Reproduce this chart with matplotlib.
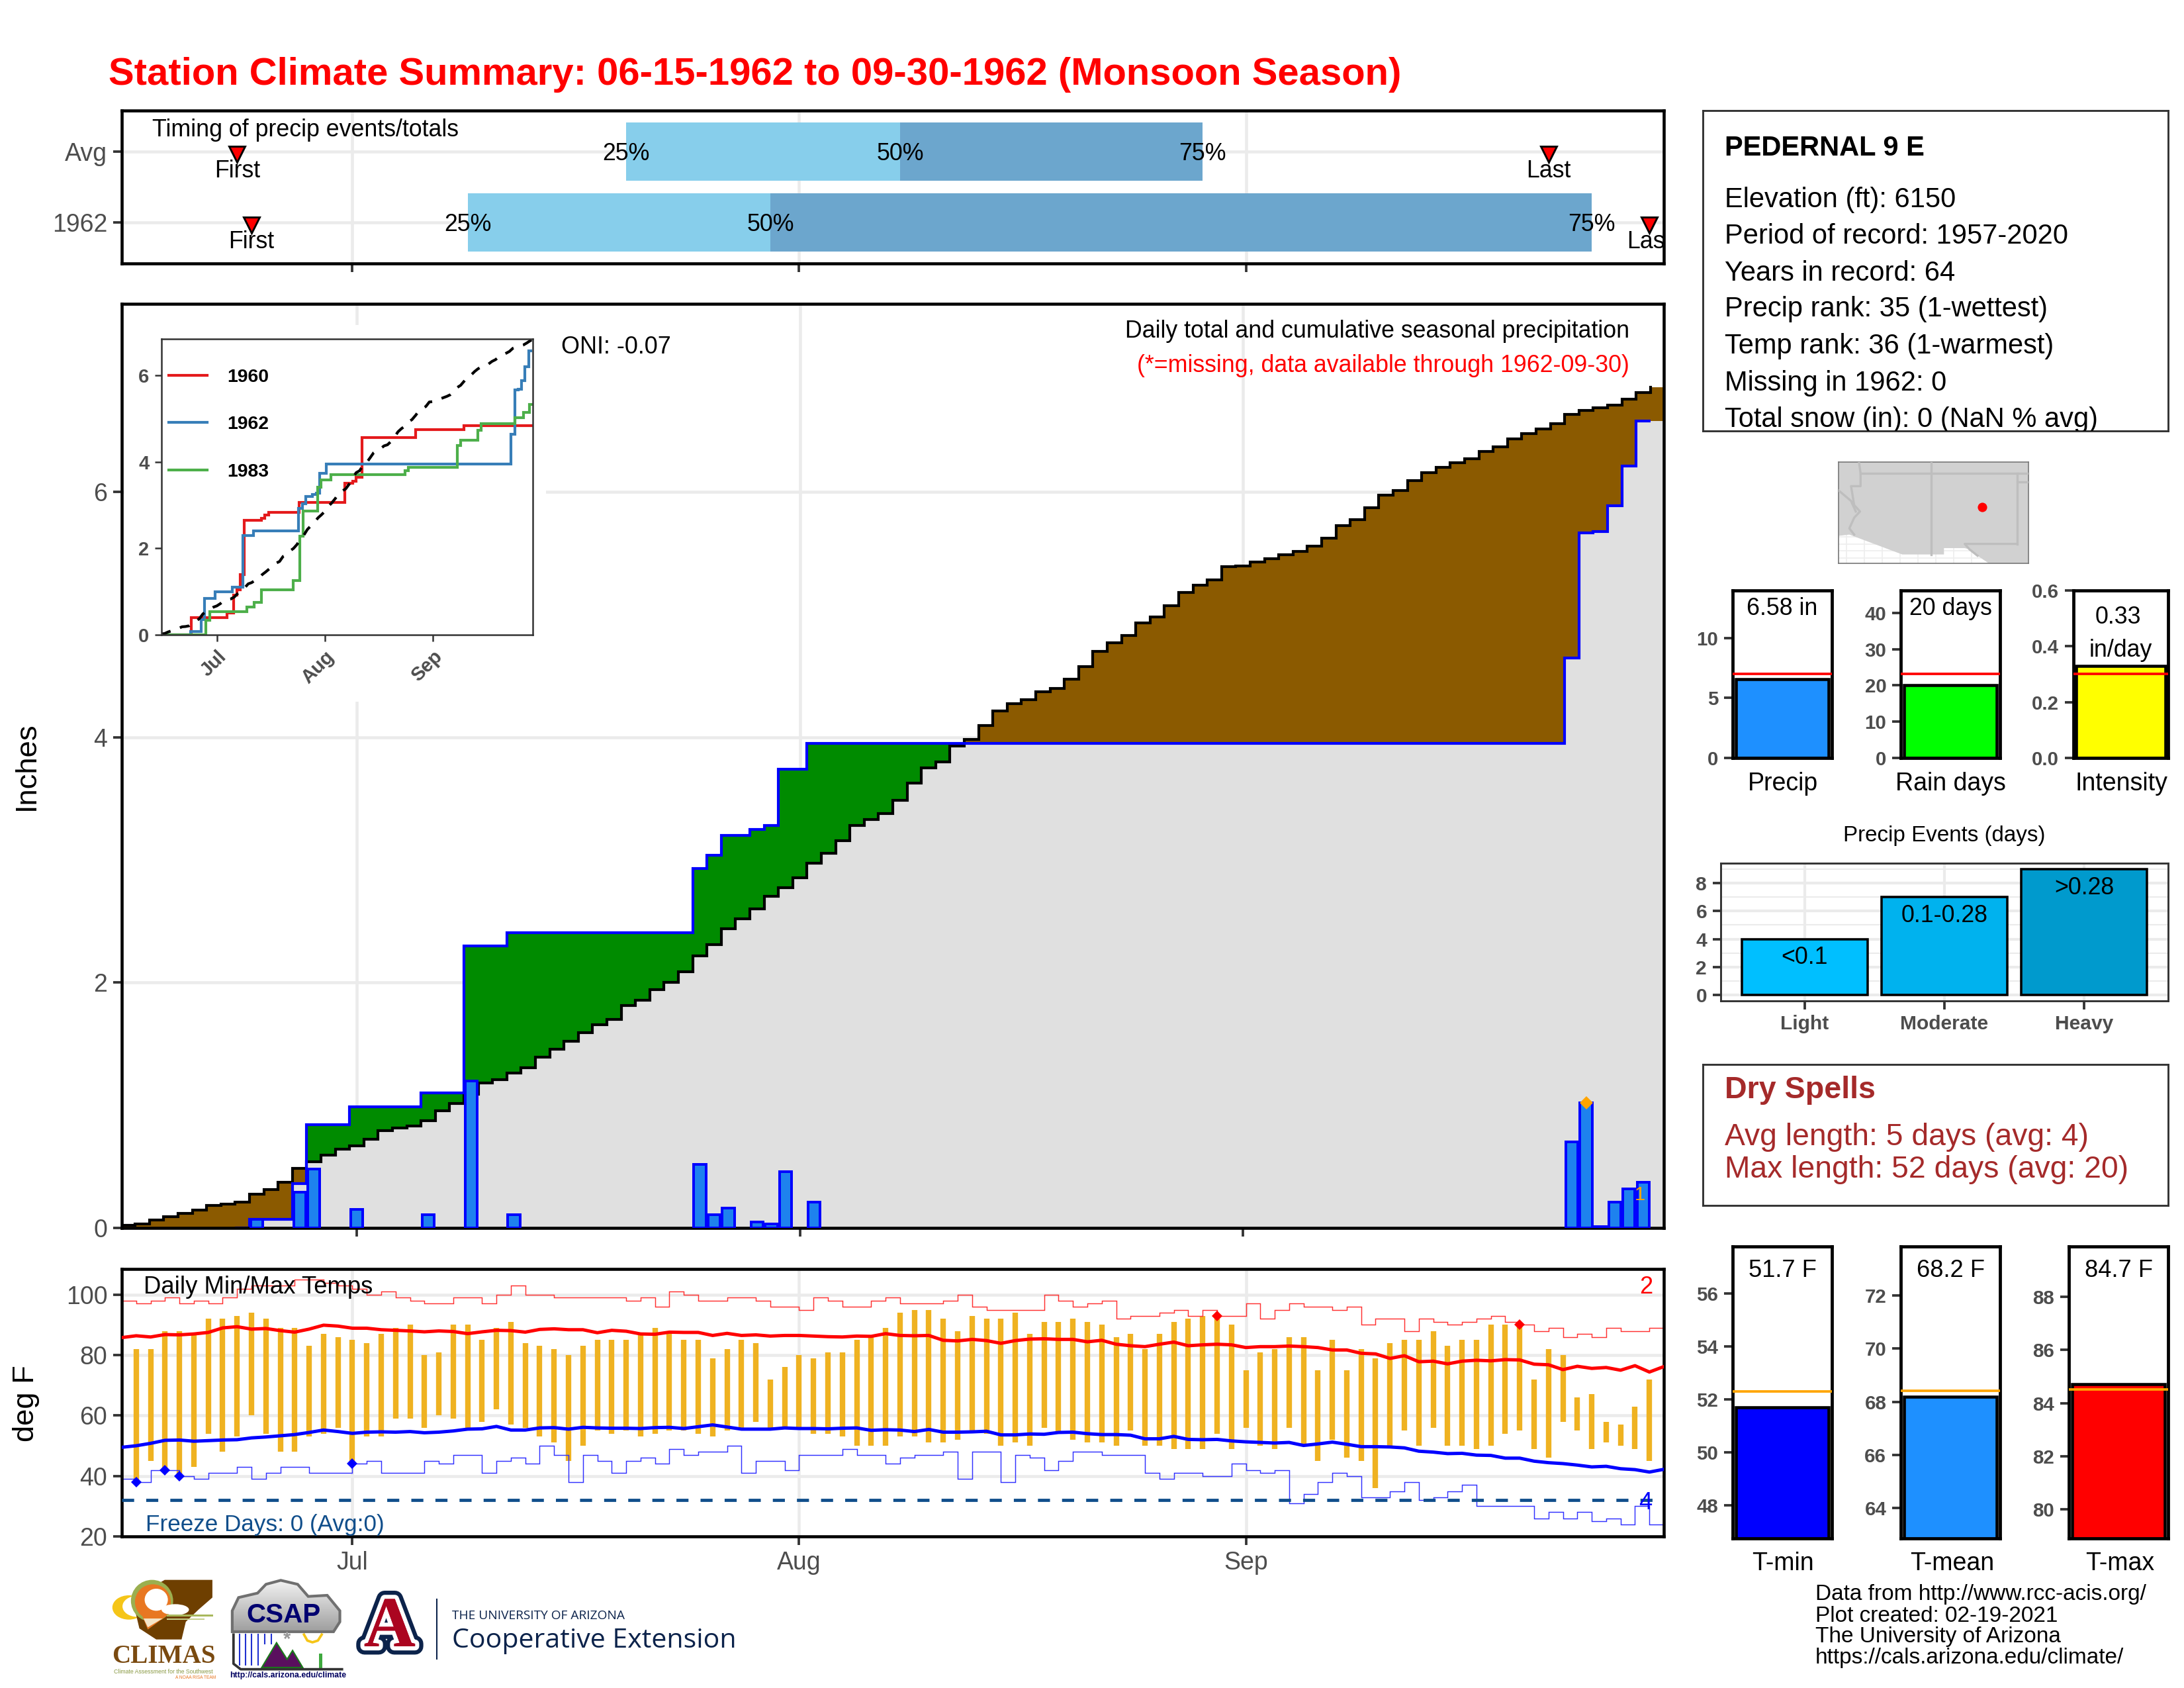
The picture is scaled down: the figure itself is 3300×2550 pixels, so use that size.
import numpy as np
import matplotlib
matplotlib.use("Agg")
import matplotlib.pyplot as plt
from matplotlib.patches import Polygon, Ellipse, Rectangle
import matplotlib.patheffects as pe

plt.rcParams['font.family'] = ['Liberation Sans', 'DejaVu Sans']
W, H = 3300, 2550
GRID = '#EBEBEB'
TICK = '#333333'
TXT = '#4D4D4D'

# ---------------- data ----------------
clim_cum = [0.02,0.03,0.066,0.093,0.12,0.148,0.186,0.192,0.208,0.276,0.315,0.375,0.485,0.54,0.594,0.64,0.67,0.722,0.792,0.815,
            0.83,0.875,0.957,1.013,1.09,1.18,1.209,1.264,1.307,1.393,1.455,1.523,1.591,1.659,1.698,1.814,1.855,1.943,2.0,2.091,
            2.216,2.311,2.441,2.523,2.602,2.705,2.777,2.857,2.975,3.055,3.155,3.28,3.33,3.38,3.489,3.627,3.754,3.80,3.93,3.986,
            4.098,4.214,4.274,4.309,4.374,4.40,4.477,4.576,4.70,4.774,4.83,4.933,4.98,5.075,5.179,5.239,5.286,5.39,5.398,5.428,
            5.458,5.489,5.519,5.557,5.626,5.725,5.777,5.872,5.975,6.014,6.095,6.16,6.203,6.238,6.27,6.33,6.37,6.436,6.476,6.517,
            6.56,6.634,6.665,6.687,6.71,6.757,6.81,6.855]
rain_days = [9,12,13,16,21,24,27,40,41,42,44,45,46,48,101,102,103,104,105,106]
rain_amt = [0.07,0.29,0.48,0.15,0.11,1.2,0.11,0.52,0.11,0.16,0.05,0.03,0.46,0.21,0.70,1.02,0.01,0.21,0.32,0.37]

tmax = [82,82,88,88,87,92,92,93,94,92,89,89,83,87,86,85,84,87,89,90,80,81,90,90,85,89,91,84,83,82,80,83,85,85,85,87,89,88,85,85,79,82,85,84,72,76,
        80,79,81,81,85,86,89,94,95,95,92,88,93,92,92,94,87,91,91,92,91,90,86,87,82,87,91,92,93,93,90,
        75,81,82,86,86,75,85,75,82,79,84,85,85,88,83,85,85,90,90,90,72,82,80,66,67,58,57,63,72]
tmin = [38,45,42,40,43,54,48,53,60,54,48,48,53,54,56,44,53,53,59,59,56,60,59,55,58,62,57,56,53,51,45,50,55,54,55,53,54,55,55,54,53,55,56,58,56,56,
        56,54,54,53,50,50,50,53,53,51,51,52,55,54,50,51,50,56,54,52,51,51,50,55,50,50,49,49,49,54,49,
        56,50,49,56,50,45,52,46,45,36,50,55,50,56,50,50,49,50,54,55,49,46,58,55,49,51,50,49,45]
tmax_high = [98,97,98,99,97,98,97,99,102,103,103,103,105,105,104,103,102,100,101,99,98,97,97,99,99,97,100,103,100,100,
             99,99,99,99,99,98,99,96,101,100,98,98,99,99,98,96,96,95,99,98,96,96,98,99,97,97,97,98,100,96,
             95,95,95,95,100,98,96,97,98,92,93,93,94,95,93,95,93,93,97,92,95,97,96,96,95,96,90,92,92,88,
             92,91,90,91,92,93,91,90,88,89,86,87,86,89,88,88,89]
tmin_low = [39,38,42,42,40,39,41,41,43,39,41,43,43,41,41,41,44,45,41,41,41,45,44,47,47,41,45,46,44,50,
            47,38,47,45,41,45,46,44,49,47,48,48,50,41,45,45,42,47,47,47,49,47,47,44,46,47,47,48,39,48,
            48,38,47,46,42,45,48,48,47,47,47,41,39,41,41,40,40,44,42,41,42,31,34,38,41,40,33,33,35,38,
            32,33,35,37,30,30,30,30,26,28,26,28,25,26,24,30,24]
tmax_avg = [85.8,86.4,86,86.8,86.7,87,87.5,89,89.4,88.6,88.8,88.1,87.6,88.6,89.9,89.6,88.9,88.9,88.4,88.2,88,87.7,88,87.8,87.1,87.7,88.2,88.1,87.6,88.5,
            88.7,88.4,88.4,87.4,88.2,87.9,87,86.9,87.6,87.5,87.5,86.5,87.2,86.5,86.7,86.3,86.5,86.5,
            86.3,86.1,86,86.3,86.2,87.1,86.5,86.4,86.5,84.9,84.7,85.2,84.8,83.9,84.8,85.3,85.4,85.2,85.2,84.4,
            84.9,83.6,83.1,82.8,83.6,84.3,83.1,83.4,83.6,83.4,82.5,82.8,82.8,83,82.8,82.5,81.7,81.7,80.6,80.4,
            78.9,79.8,77.8,78,77.1,78,78.3,78.1,78.5,78.4,77,76.8,75.2,76.3,75.6,75.9,75,76.5,74.4,76.2]
tmin_avg = [49.5,50,50.8,51.8,51.9,51.5,51.7,51.9,52,52.6,52.9,53.3,53.7,54.4,55.2,54.7,54.1,54.5,54.6,54.5,54.7,
            54.3,54.5,54.9,55.5,55.6,56.4,55.2,55.2,55.9,56,55.5,56.1,55.9,55.8,55.8,55.7,56,56.1,55.7,56.3,56.9,56.2,55.5,55.5,55.5,55.9,55.7,
            55.7,55.6,55.8,55.9,55.1,55.3,55.2,54.7,55.4,54.5,54.5,54.6,54.8,53.6,53.6,53.9,53.8,54.4,54.5,54,
            53.7,53.7,53.5,52.3,52.3,53.1,52.1,52,52.1,51.6,51.3,51.1,50.9,51.1,50.1,50.6,51.2,50.5,49.7,49.7,
            49.6,49.3,48.2,47.9,47.4,47.5,46.9,46.8,45.9,45.9,44.9,44.4,44.1,43.6,43,43.2,42.4,42.1,41.3,42.2]
cold_days = [1,3,4,16]
cold_vals = [38,42,40,44]
hot_days = [76,97]
hot_vals = [93,90]

y1960_days = [0,8.7,18.9,20.8,21.8,22.8,23.8,28.7,29.8,30.8,39.7,52.8,55,56,57.7,73,87]
y1960_vals = [0,0.40,0.50,0.92,1.04,1.39,2.65,2.70,2.77,2.83,3.07,3.51,3.55,3.65,4.57,4.75,4.85]
y1983_days = [0,12.8,13.9,24.7,26.7,28.8,37.9,39.9,40.7,44.9,45.9,48.8,70,70.9,85,86,91,91.9,101.5,104,105.8]
y1983_vals = [0,0.33,0.54,0.64,0.75,1.04,1.25,2.28,2.86,3.41,3.58,3.71,3.80,3.875,4.39,4.5,4.74,4.89,5.03,5.15,5.33]

month_days = [16,47,78]
month_labels = ['Jul','Aug','Sep']
timing_rows = ['1962','Avg']
timing_q = {'Avg':[35,54,75], '1962':[24,45,102]}
timing_first = {'Avg':8, '1962':9}
timing_last = {'Avg':99, '1962':106}

events = [4,7,9]
event_names = ['Light','Moderate','Heavy']
event_ranges = ['<0.1','0.1-0.28','>0.28']
event_colors = ['#00BFFF','#00B2EE','#009ACD']

station_lines = ['Elevation (ft): 6150','Period of record: 1957-2020','Years in record: 64','Precip rank: 35 (1-wettest)',
                 'Temp rank: 36 (1-warmest)','Missing in 1962: 0','Total snow (in): 0 (NaN % avg)']

land_lon = [-115.58,-114.82,-111.1,-108.17,-108.17,-106.71,-106.37,-105.81,-105.02,-102.23,-102.23,-115.58]
land_lat = [32.57,32.66,31.25,31.25,31.7,31.7,31.61,31.16,30.62,30.62,37.81,37.81]
border_segments = [
    ([-114.14,-114.03,-114.03,-114.70,-114.48,-114.07,-114.48,-114.82,-114.48],[37.81,37,36.1,36.1,34.75,34.3,33.86,33.1,32.66]),
    ([-115.58,-114.7,-114.37],[35.8,35.05,34.3]),
    ([-114.03,-102.23],[37,37]),
    ([-109.05,-109.05],[37.81,31.25]),
    ([-103.04,-103.04],[37,32]),
    ([-103.04,-102.23],[36.4,36.4]),
    ([-105.81,-106.37,-106.71,-103.04],[31.16,31.61,32,32]),
]
station_lon, station_lat = -105.49, 34.6

# ---------------- helpers ----------------
fig = plt.figure(figsize=(11, 8.5), dpi=300)

def axpx(x0, y0, x1, y1, **kw):
    return fig.add_axes([x0/W, 1-y1/H, (x1-x0)/W, (y1-y0)/H], **kw)

def frame(ax, lw=1.1, color='black'):
    for s in ax.spines.values():
        s.set_linewidth(lw); s.set_color(color)

def style(ax, size=9, tl=3.2, tw=0.9, bold=False):
    ax.tick_params(length=tl, width=tw, color=TICK, labelcolor=TXT, labelsize=size, pad=2)
    if bold:
        for t in ax.get_xticklabels()+ax.get_yticklabels():
            t.set_fontweight('bold')

idx = np.arange(len(clim_cum))
clim_cum = np.array(clim_cum)
daily = np.zeros(len(clim_cum)); daily[rain_days] = rain_amt
cum = np.cumsum(daily); cum[-1] = cum[-2]

# ---------------- timing panel ----------------
ax = axpx(184, 167, 2514, 398)
ax.set_xlim(0, 107); ax.set_ylim(0.42, 2.58)
ax.set_axisbelow(True)
ax.grid(True, color=GRID, lw=1.1)
ax.set_xticks(month_days); ax.set_xticklabels([])
ax.set_yticks([1, 2]); ax.set_yticklabels(timing_rows)
style(ax, 9); frame(ax)
for r, name in enumerate(timing_rows, start=1):
    q = timing_q[name]
    ax.barh(r, q[1]-q[0], left=q[0], height=0.82, color='#87CEEB', lw=0)
    ax.barh(r, q[2]-q[1], left=q[1], height=0.82, color='#6CA6CD', lw=0)
    for qq, lab in zip(q, ['25%','50%','75%']):
        ax.text(qq, r-0.03, lab, ha='center', va='center', fontsize=8.6, color='black')
    ax.plot(timing_first[name], r-0.04, marker='v', ms=5.6, mfc='red', mec='black', mew=0.7, ls='none')
    ax.plot(timing_last[name], r-0.04, marker='v', ms=5.6, mfc='red', mec='black', mew=0.7, ls='none')
    ax.text(timing_first[name], r-0.275, 'First', ha='center', va='center', fontsize=8.6, clip_on=True)
    ax.text(timing_last[name], r-0.275, 'Last', ha='center', va='center', fontsize=8.6, clip_on=True)
ax.text(2.1, 2.305, 'Timing of precip events/totals', ha='left', va='center', fontsize=8.6)

# ---------------- main precip panel ----------------
ax = axpx(184, 459, 2514, 1855)
ax.set_xlim(-0.44, 107.44); ax.set_ylim(0, 7.535)
ax.set_axisbelow(True)
ax.grid(True, color=GRID, lw=1.1)
ax.set_xticks(month_days); ax.set_xticklabels([])
ax.set_yticks([0, 2, 4, 6])
style(ax, 9); frame(ax)
edges = np.append(idx-0.5, idx[-1]+0.5)
lo = np.minimum(clim_cum, cum)
def sfill(low, high, color):
    ax.fill_between(edges, np.append(low, low[-1]), np.append(high, high[-1]), step='post', color=color, lw=0, zorder=1.5)
sfill(np.zeros_like(lo), lo, '#E0E0E0')
sfill(lo, clim_cum, '#8B5A00')
sfill(lo, cum, '#008B00')
ax.stairs(clim_cum[:-1], edges[:-1], color='black', lw=1.0, baseline=None, zorder=2)
ax.plot([edges[-2], edges[-2]], clim_cum[-2:], color='black', lw=1.0, zorder=2)
ax.stairs(cum[8:-1], edges[8:-1], color='#0000FF', lw=1.0, baseline=None, zorder=2.5)
ax.bar(rain_days, rain_amt, width=0.85, color='#1E82EE', edgecolor='#0000FF', lw=0.95, zorder=3)
ax.plot(rain_days[15], rain_amt[15], marker='D', ms=3.4, color='orange', mew=0, zorder=4)
ax.text(105.75, 0.27, '1', color='orange', fontsize=7, ha='center', va='center', zorder=4)
bg = axpx(188, 491, 825, 1060); bg.set_axis_off()
bg.add_patch(Rectangle((0, 0), 1, 1, transform=bg.transAxes, color='white', lw=0))

# ---------------- inset ----------------
ins = axpx(244, 512, 805, 959)
ins.set_xlim(0.1, 106.7); ins.set_ylim(0, 6.85)
ins.stairs(y1960_vals, y1960_days+[106.7], color='#E41A1C', lw=1.0, baseline=None, label='1960')
ins.stairs(cum[:-1], edges[:-1], color='#377EB8', lw=1.0, baseline=None, label='1962')
ins.stairs(y1983_vals, y1983_days+[106.7], color='#4DAF4A', lw=1.0, baseline=None, label='1983')
ins.plot(idx, clim_cum, color='black', lw=1.0, ls=(0, (3.6, 3.6)))
ins.set_xticks(month_days); ins.set_xticklabels(['Jul','Aug','Sep'], rotation=45, ha='right', rotation_mode='anchor')
ins.set_yticks([0, 2, 4, 6])
style(ins, 7, tl=2.5, tw=0.6, bold=True); frame(ins, 0.6, '#333333')
leg = ins.legend(loc='upper left', bbox_to_anchor=(0.0, 0.925), frameon=False, fontsize=6.8,
                 labelspacing=1.6, handlelength=2.05, handletextpad=1.05, borderpad=0.4, borderaxespad=0.0)
for t in leg.get_texts():
    t.set_fontweight('bold')

# ---------------- temperature panel ----------------
ax = axpx(184, 1917, 2514, 2321)
ax.set_xlim(0, 107); ax.set_ylim(20.4, 108.5)
ax.set_axisbelow(True)
ax.grid(True, color=GRID, lw=1.1)
ax.set_xticks(month_days); ax.set_xticklabels(month_labels)
ax.set_yticks([20, 40, 60, 80, 100])
style(ax, 9); frame(ax)
day1 = np.arange(1, len(tmax)+1)
ax.vlines(day1, tmin, tmax, color='#EFB221', lw=2.0, zorder=2)
ax.stairs(tmax_high, np.arange(len(tmax_high)+1), color='#FF3030', lw=0.35, baseline=None, zorder=2.2)
ax.stairs(tmin_low, np.arange(len(tmin_low)+1), color='#3030FF', lw=0.35, baseline=None, zorder=2.2)
ax.plot(np.arange(len(tmax_avg)), tmax_avg, color='#FF0000', lw=1.2, zorder=3)
ax.plot(np.arange(len(tmin_avg)), tmin_avg, color='#0000FF', lw=1.2, zorder=3)
ax.axhline(32, color='#104E8B', lw=1.15, ls=(0, (3.8, 3.8)), zorder=2.6)
ax.plot(cold_days, cold_vals, ls='none', marker='D', ms=2.6, color='#0000FF', mew=0, zorder=4)
ax.plot(hot_days, hot_vals, ls='none', marker='D', ms=2.6, color='#FF0000', mew=0, zorder=4)

# ---------------- station box ----------------
bx = axpx(2573, 167, 3276, 651)
bx.set_xlim(2573, 3276); bx.set_ylim(651, 167); bx.set_xticks([]); bx.set_yticks([])
frame(bx, 0.7, '#333333')
bx.text(2606, 224, 'PEDERNAL 9 E', fontsize=10, fontweight='bold', va='center', clip_on=True)
for yy, s in zip([302, 357, 413, 467, 523, 579, 634], station_lines):
    bx.text(2606, yy, s, fontsize=10, va='center', clip_on=True)

# ---------------- map ----------------
mp = axpx(2778, 698, 3065, 851)
mp.set_xlim(-115.58, -102.23); mp.set_ylim(30.62, 37.81)
mp.set_xticks(np.arange(-115, -103, 1.25)); mp.set_yticks(np.arange(31, 33, 0.5))
mp.grid(True, color='#EEEEEE', lw=0.4)
mp.tick_params(length=0, labelbottom=False, labelleft=False)
mp.add_patch(Polygon(np.column_stack([land_lon, land_lat]), color='#D1D1D1', lw=0, zorder=2))
for sx, sy in border_segments:
    mp.plot(sx, sy, color='#BEBEBE', lw=0.8, zorder=3)
mp.plot(station_lon, station_lat, marker='o', ms=3.4, color='#FF0000', mew=0, zorder=4)
frame(mp, 0.4, '#777777')

# ---------------- small bar panels ----------------
def barpanel(box, ylim, ticks, labels, value, color, ref, refcolor):
    a = axpx(*box)
    a.set_xlim(0.52, 1.48); a.set_ylim(*ylim)
    a.bar([1], [value], width=0.9, color=color, edgecolor='black', lw=1.1, zorder=2)
    a.axhline(ref, color=refcolor, lw=0.9, zorder=3)
    a.set_xticks([]); a.set_yticks(ticks); a.set_yticklabels(labels)
    style(a, 7.1, tl=3.2, tw=0.9, bold=True); frame(a, 1.15)
    return a

a = barpanel((2618, 892, 2768, 1145), (0, 13.95), [0, 5, 10], ['0','5','10'], 6.58, '#1E90FF', 7.0, 'red')
a.text(1, 12.45, '6.58 in', ha='center', va='center', fontsize=8.6)
a = barpanel((2872, 892, 3022, 1145), (0, 46.2), [0, 10, 20, 30, 40], ['0','10','20','30','40'], 20, '#00FF00', 23.2, 'red')
a.text(1, 41.2, '20 days', ha='center', va='center', fontsize=8.6)
a = barpanel((3133, 892, 3276, 1145), (0, 0.6), [0, 0.2, 0.4, 0.6], ['0.0','0.2','0.4','0.6'], 0.33, '#FFFF00', 0.302, 'red')
a.text(0.97, 0.505, '0.33', ha='center', va='center', fontsize=8.6)
a.text(1, 0.385, 'in/day', ha='center', va='center', fontsize=8.6)

a = barpanel((2618, 1883, 2768, 2324), (46.74, 57.77), [48, 50, 52, 54, 56], ['48','50','52','54','56'], 51.7, '#0000FF', 52.3, 'orange')
a.text(1, 56.85, '51.7 F', ha='center', va='center', fontsize=8.7)
a = barpanel((2872, 1883, 3022, 2324), (62.84, 73.86), [64, 66, 68, 70, 72], ['64','66','68','70','72'], 68.2, '#1E90FF', 68.4, 'orange')
a.text(1, 72.95, '68.2 F', ha='center', va='center', fontsize=8.7)
a = barpanel((3126, 1883, 3276, 2324), (78.9, 89.9), [80, 82, 84, 86, 88], ['80','82','84','86','88'], 84.7, '#FF0000', 84.5, 'orange')
a.text(1, 89.0, '84.7 F', ha='center', va='center', fontsize=8.7)

# ---------------- precip events ----------------
e = axpx(2600, 1304, 3276, 1512)
e.set_xlim(0.4, 3.6); e.set_ylim(-0.45, 9.45)
e.set_axisbelow(True)
e.grid(True, color=GRID, lw=1.0)
e.set_yticks([1, 3, 5, 7, 9], minor=True)
e.grid(True, which='minor', axis='y', color=GRID, lw=0.5)
e.tick_params(which='minor', length=0)
e.bar([1, 2, 3], events, width=0.9, color=event_colors, edgecolor='black', lw=0.85, zorder=2)
for k, (v, s) in enumerate(zip(events, event_ranges), start=1):
    e.text(k, v-1.35, s, ha='center', va='center', fontsize=8.6, zorder=3)
e.set_xticks([1, 2, 3]); e.set_xticklabels(event_names)
e.set_yticks([0, 2, 4, 6, 8])
style(e, 7.2, tl=3.0, tw=0.9, bold=True); frame(e, 0.7, '#333333')

# ---------------- dry spells ----------------
d = axpx(2573, 1608, 3276, 1821)
d.set_xlim(2573, 3276); d.set_ylim(1821, 1608); d.set_xticks([]); d.set_yticks([])
frame(d, 0.7, '#333333')
d.text(2606, 1647, 'Dry Spells', color='#A52A2A', fontsize=11.2, fontweight='bold', va='center')
d.text(2606, 1718, 'Avg length: 5 days (avg: 4)', color='#A52A2A', fontsize=11.1, va='center')
d.text(2606, 1767, 'Max length: 52 days (avg: 20)', color='#A52A2A', fontsize=11.1, va='center')

# ---------------- overlay: free text and logos ----------------
ov = fig.add_axes([0, 0, 1, 1], zorder=20)
ov.set_xlim(0, W); ov.set_ylim(H, 0); ov.set_axis_off(); ov.patch.set_alpha(0)
def T(x, y, s, **kw):
    kw.setdefault('va', 'center'); kw.setdefault('color', 'black')
    return ov.text(x, y, s, **kw)

T(164, 113, 'Station Climate Summary: 06-15-1962 to 09-30-1962 (Monsoon Season)', color='#FF0000', fontsize=13.93, fontweight='bold')
T(40, 1157, 'Inches', rotation=90, ha='center', fontsize=10.9)
T(40, 2120, 'deg F', rotation=90, ha='center', fontsize=10.9)
T(848, 525, 'ONI: -0.07', fontsize=8.65)
T(2462, 500, 'Daily total and cumulative seasonal precipitation', ha='right', fontsize=8.6)
T(2462, 552, '(*=missing, data available through 1962-09-30)', ha='right', fontsize=8.6, color='#FF0000')
T(217, 1945, 'Daily Min/Max Temps', fontsize=8.75)
T(220, 2304, 'Freeze Days: 0 (Avg:0)', fontsize=8.45, color='#104E8B')
T(2487, 1944, '2', fontsize=8.7, color='#FF0000', ha='center')
T(2486, 2271, '4', fontsize=8.7, color='#0000FF', ha='center')
T(2694, 1184, 'Precip', ha='center', fontsize=9)
T(2947, 1184, 'Rain days', ha='center', fontsize=9)
T(3205, 1184, 'Intensity', ha='center', fontsize=9)
T(2694, 2362, 'T-min', ha='center', fontsize=9)
T(2950, 2362, 'T-mean', ha='center', fontsize=9)
T(3203, 2362, 'T-max', ha='center', fontsize=9)
T(2938, 1262, 'Precip Events (days)', ha='center', fontsize=7.95)
for yy, s in zip([2409, 2441, 2473, 2505], ['Data from http://www.rcc-acis.org/', 'Plot created: 02-19-2021',
                                             'The University of Arizona', 'https://cals.arizona.edu/climate/']):
    T(2743, yy, s, fontsize=8.0)

def L(zx, zy):
    return (150+zx/1.568, 2350+zy/3)
def poly(pts, **kw):
    ov.add_patch(Polygon([L(*p) for p in pts], lw=kw.pop('lw', 0), **kw))
def ell(zx, zy, w, h, color):
    x, y = L(zx, zy)
    ov.add_patch(Ellipse((x, y), w/1.568, h/3, color=color, lw=0))

# CLIMAS logo
ell(70,235,78,110,'#F5C518')
ell(90,230,70,95,'white')
poly([(155,110),(268,110),(268,190),(235,245),(205,300),(195,380),(135,380),(95,330),(85,250),(100,170)], color='#6E3F00')
ell(125,205,100,190,'#9BAF4F')
ell(127,210,85,160,'#E87722')
ell(135,200,55,100,'white')
ell(180,245,65,50,'white')
poly([(100,265),(165,265),(115,335)], color='#E87722')
poly([(105,285),(150,285),(115,325)], color='#F4E5C8')
poly([(160,268),(270,268),(270,276),(160,276)], color='#A8B85C')
poly([(160,284),(250,284),(250,292),(160,292)], color='#C6CF8E')
T(*L(152,458), 'CLIMAS', ha='center', fontsize=9.4, fontweight='bold', color='#7A4A10', family='Liberation Serif')
T(*L(152,525), 'Climate Assessment for the Southwest', ha='center', fontsize=2.1, color='#8A9A45')
T(*L(228,552), 'A NOAA RISA TEAM', ha='center', fontsize=1.6, color='#E87722')

# CSAP logo
cloud = Polygon([L(*p) for p in [(315,345),(315,250),(330,190),(375,170),(395,130),(430,112),(470,130),(495,185),(540,180),(570,250),(570,300),(555,345)]],
                facecolor='none', edgecolor='#707070', lw=1.0, zorder=3)
ov.add_patch(cloud)
grad = ov.imshow(np.linspace(0.95, 0.62, 64).reshape(-1, 1), cmap='gray', vmin=0, vmax=1, aspect='auto',
                 extent=(L(315,0)[0], L(570,0)[0], L(0,345)[1], L(0,112)[1]), zorder=2)
grad.set_clip_path(cloud)
ov.set_xlim(0, W); ov.set_ylim(H, 0)
T(*L(437,270), 'CSAP', ha='center', fontsize=9.7, fontweight='bold', color='#000070', zorder=4)
for zx in [333, 347, 361, 377, 392, 408]:
    bottom = 495 if zx < 385 else 400
    ov.plot(*zip(L(zx,358), L(zx,bottom)), color='#2030D0', lw=0.5)
ov.plot(*zip(L(318,358), L(318,490), L(335,515), L(575,515)), color='#333333', lw=0.9)
poly([(385,507),(420,395),(445,470),(458,430),(482,507)], facecolor='#5A0F5E', edgecolor='#1A7A1A', lw=0.5)
ov.plot(*zip(L(485,358), L(493,385), L(505,393), L(518,385), L(527,358)), color='#F5C518', lw=0.9)
T(*L(444,382), '*', ha='center', fontsize=7, color='#999999', fontweight='bold')
poly([(520,445),(528,445),(528,510),(520,510)], color='#3FA93F')
T(*L(447,543), 'http://cals.arizona.edu/climate', ha='center', fontsize=2.95, fontweight='bold', color='#000060')

# University of Arizona block
UA = ov.text(*L(688,333), 'A', ha='center', va='center', fontsize=26, fontweight='bold', color='#AB0520', family='Liberation Serif')
UA.set_path_effects([pe.withStroke(linewidth=6.0, foreground='#0C234B'), pe.withStroke(linewidth=3.0, foreground='white'), pe.Normal()])
ov.plot(*zip(L(800,198), L(800,468)), color='#0C234B', lw=0.5)
T(*L(835,272), 'THE UNIVERSITY OF ARIZONA', fontsize=4.6, color='#0C234B', family='Open Sans')
T(*L(835,386), 'Cooperative Extension', fontsize=9.87, color='#0C234B', family='Open Sans')

fig.savefig('out.png', dpi=300)
